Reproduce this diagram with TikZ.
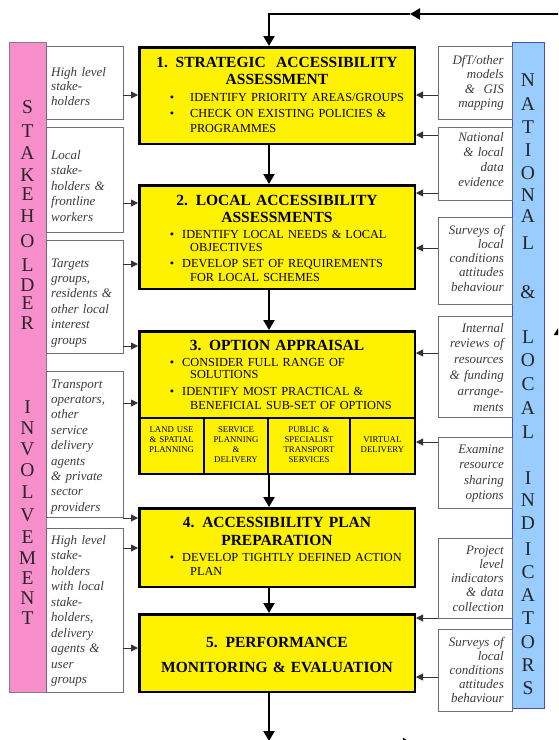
\documentclass[tikz,border=0pt]{standalone}
\usepackage{fontspec}
\setmainfont{Liberation Serif}
\usetikzlibrary{arrows.meta}
\definecolor{pinkbar}{RGB}{248,143,204}
\definecolor{bluebar}{RGB}{153,204,255}
\definecolor{sidetext}{RGB}{60,60,60}
\definecolor{sideline}{RGB}{110,110,110}
\tikzset{
  mainbox/.style={draw=black, line width=2.5pt, fill=yellow, inner sep=0pt, minimum width=275.5pt},
  subbox/.style={draw=black, line width=2.2pt, inner sep=0pt},
  sidebox/.style={draw=sideline, line width=0.8pt, fill=white, inner sep=0pt},
  lbar/.style={draw=gray, line width=0.7pt, fill=pinkbar, inner sep=0pt},
  rbar/.style={draw=gray!60!blue, line width=0.7pt, fill=bluebar, inner sep=0pt},
  ltext/.style={anchor=base west, inner sep=0pt, text width=70pt, align=left, text=sidetext},
  rtext/.style={anchor=base east, inner sep=0pt, text width=70pt, align=right, text=sidetext},
  titletext/.style={anchor=base, inner sep=0pt, text width=270pt, align=center},
  btext/.style={anchor=base west, inner sep=0pt, text width=228pt, align=left},
  bulletdot/.style={anchor=base, inner sep=0pt, font=\fontsize{12.3}{14}\selectfont},
  subtext/.style={anchor=base, inner sep=0pt, align=center, text width=62pt, font=\fontsize{8.8}{10}\selectfont},
  letter/.style={inner sep=0pt, text=black!85, font=\fontsize{19.5}{19.5}\selectfont},
  flow/.style={line width=2.2pt, line join=miter, -{Triangle[length=10pt,width=11pt]}},
  feed/.style={line width=0.9pt, draw=black!80, -{Triangle[length=7pt,width=7pt]}},
}
\newcommand{\sidefont}[1]{\fontsize{13}{#1}\selectfont\itshape}
\newcommand{\titlefont}[1]{\fontsize{15.5}{#1}\selectfont\bfseries}
\newcommand{\bfont}[1]{\fontsize{12.3}{#1}\selectfont}
\begin{document}
\begin{tikzpicture}[x=1pt,y=-1pt]
\useasboundingbox (0,0) rectangle (558,740);
\clip (0,0) rectangle (558,740);

% bars
\node[lbar, minimum width=37pt, minimum height=650pt] (lb) at (27.5,367) {};
\node[rbar, minimum width=32pt, minimum height=666pt] (rb) at (528,375) {};

\foreach \c/\y [count=\i] in {S/107,T/131,A/153,K/175,E/194,H/216,O/241,L/265,D/285,E/303,R/323,I/407,N/428,V/449,O/470,L/492,V/515,E/537,M/558,E/578,N/598,T/618}
  \node[letter, name=ls\i] at (27.5,\y) {\c};
\foreach \c/\y [count=\i] in {N/80,A/104,T/127,I/150,O/173,N/195,A/216,L/243,\&/292,L/337,O/360,C/384,A/408,L/432,I/478,N/500,D/523,I/549,C/572,A/595,T/618,O/642,R/665,S/688}
  \node[letter, name=rs\i] at (528,\y) {\c};

% left side boxes
\node[sidebox, minimum width=77pt, minimum height=73pt]  (L1) at (84.5,82.5) {};
\node[sidebox, minimum width=77pt, minimum height=105pt] (L2) at (84.5,179.5) {};
\node[sidebox, minimum width=77pt, minimum height=113pt] (L3) at (84.5,296.5) {};
\node[sidebox, minimum width=77pt, minimum height=146pt] (L4) at (84.5,444) {};
\node[sidebox, minimum width=77pt, minimum height=164pt] (L5) at (84.5,610) {};

\node[ltext, font=\sidefont{14.5}] (L1t) at (51,76) {High level\\stake-\\holders};
\node[ltext, font=\sidefont{15.5}] (L2t) at (51,159) {Local\\stake-\\holders \&\\frontline\\workers};
\node[ltext, font=\sidefont{15.4}] (L3t) at (51,267) {Targets\\groups,\\residents \&\\other local\\interest\\groups};
\node[ltext, font=\sidefont{15.4}] (L4t) at (51,388) {Transport\\operators,\\other\\service\\delivery\\agents\\\& private\\sector\\providers};
\node[ltext, font=\sidefont{15.5}] (L5t) at (51,544) {High level\\stake-\\holders\\with local\\stake-\\holders,\\delivery\\agents \&\\user\\groups};

% right side boxes
\node[sidebox, minimum width=74pt, minimum height=73pt]  (R1) at (475,82.5) {};
\node[sidebox, minimum width=74pt, minimum height=73pt]  (R2) at (475,163.5) {};
\node[sidebox, minimum width=74pt, minimum height=87pt]  (R3) at (475,260.5) {};
\node[sidebox, minimum width=74pt, minimum height=101pt] (R4) at (475,366.5) {};
\node[sidebox, minimum width=74pt, minimum height=71pt]  (R5) at (475,472.5) {};
\node[sidebox, minimum width=74pt, minimum height=80pt]  (R6) at (475,578) {};
\node[sidebox, minimum width=74pt, minimum height=82pt]  (R7) at (475,670) {};

\node[rtext, font=\sidefont{14.5}] (R1t) at (504,64) {DfT/other\\models\\\&\ \ GIS\\mapping};
\node[rtext, font=\sidefont{15.3}] (R2t) at (504,141) {National\\\& local\\data\\evidence};
\node[rtext, font=\sidefont{14.3}] (R3t) at (504,234) {Surveys of\\local\\conditions\\attitudes\\behaviour};
\node[rtext, font=\sidefont{15.8}] (R4t) at (504,332) {Internal\\reviews of\\resources\\\& funding\\arrange-\\ments};
\node[rtext, font=\sidefont{15.6}] (R5t) at (504,453) {Examine\\resource\\sharing\\options};
\node[rtext, font=\sidefont{14.3}] (R6t) at (504,554) {Project\\level\\indicators\\\& data\\collection};
\node[rtext, font=\sidefont{14}]   (R7t) at (504,646) {Surveys of\\local\\conditions\\attitudes\\behaviour};

% main boxes
\node[mainbox, minimum height=96.5pt]  (b1) at (277,95.5) {};
\node[mainbox, minimum height=103.5pt] (b2) at (277,237) {};
\node[mainbox, minimum height=142.5pt] (b3) at (277,402.5) {};
\node[mainbox, minimum height=78.5pt]  (b4) at (277,547.5) {};
\node[mainbox, minimum height=77.5pt]  (b5) at (277,653) {};

% sub boxes of box 3
\node[subbox, minimum width=64.75pt, minimum height=55.75pt] (sb1) at (171.6,445.9) {};
\node[subbox, minimum width=64pt,    minimum height=55.75pt] (sb2) at (236,445.9) {};
\node[subbox, minimum width=82pt,    minimum height=55.75pt] (sb3) at (309,445.9) {};
\node[subbox, minimum width=64.75pt, minimum height=55.75pt] (sb4) at (382.4,445.9) {};

\node[subtext] (sb1t) at (171.6,432) {LAND USE\\\& SPATIAL\\PLANNING};
\node[subtext] (sb2t) at (236,432) {SERVICE\\PLANNING\\\&\\DELIVERY};
\node[subtext] (sb3t) at (309,432) {PUBLIC \&\\SPECIALIST\\TRANSPORT\\SERVICES};
\node[subtext] (sb4t) at (382.4,442) {VIRTUAL\\DELIVERY};

% box texts
\node[titletext, font=\titlefont{17}] (b1t) at (277,67) {1. STRATEGIC\ \ ACCESSIBILITY\\ASSESSMENT};
\node[bulletdot] (b1d1) at (172,101) {\textbullet};
\node[btext, font=\bfont{15}] (b1x1) at (190,101) {IDENTIFY PRIORITY AREAS/GROUPS};
\node[bulletdot] (b1d2) at (172,117) {\textbullet};
\node[btext, font=\bfont{15}] (b1x2) at (190,117) {CHECK ON EXISTING POLICIES \&\\PROGRAMMES};

\node[titletext, font=\titlefont{17}] (b2t) at (277,205) {2. LOCAL ACCESSIBILITY\\ASSESSMENTS};
\node[bulletdot] (b2d1) at (172,238) {\textbullet};
\node[btext, font=\bfont{13.5}] (b2x1) at (182,238) {IDENTIFY LOCAL NEEDS \& LOCAL\\\hspace*{8pt}OBJECTIVES};
\node[bulletdot] (b2d2) at (172,267) {\textbullet};
\node[btext, font=\bfont{14}] (b2x2) at (182,267) {DEVELOP SET OF REQUIREMENTS\\\hspace*{8pt}FOR LOCAL SCHEMES};

\node[titletext, font=\titlefont{17}] (b3t) at (277,350) {3. OPTION APPRAISAL};
\node[bulletdot] (b3d1) at (172,366) {\textbullet};
\node[btext, font=\bfont{12.5}] (b3x1) at (182,366) {CONSIDER FULL RANGE OF\\\hspace*{8pt}SOLUTIONS};
\node[bulletdot] (b3d2) at (172,395) {\textbullet};
\node[btext, font=\bfont{14}] (b3x2) at (182,395) {IDENTIFY MOST PRACTICAL \&\\\hspace*{8pt}BENEFICIAL SUB-SET OF OPTIONS};

\node[titletext, font=\titlefont{18}] (b4t) at (277,527) {4. ACCESSIBILITY PLAN\\PREPARATION};
\node[bulletdot] (b4d1) at (172,561) {\textbullet};
\node[btext, font=\bfont{14}] (b4x1) at (182,561) {DEVELOP TIGHTLY DEFINED ACTION\\\hspace*{8pt}PLAN};

\node[titletext, font=\titlefont{25}] (b5t) at (277,647) {5. PERFORMANCE\\MONITORING \& EVALUATION};

% main flow
\coordinate (ax) at (269,0);
\draw[flow] (b1.south -| ax) -- (b2.north -| ax);
\draw[flow] (b2.south -| ax) -- (b3.north -| ax);
\draw[flow] (b3.south -| ax) -- (b4.north -| ax);
\draw[flow] (b4.south -| ax) -- (b5.north -| ax);
\coordinate (bend) at (269,741);
\draw[flow] (b5.south -| ax) -- (bend);

% loop back (partly outside the picture)
\coordinate (tr) at (562,14);
\coordinate (tm) at (410,14);
\coordinate (tc) at (269,14);
\draw[line width=2.2pt, -{Triangle[length=10pt,width=11pt]}] (tr) -- (tm);
\draw[flow] (tm) -- (tc) -- (b1.north -| ax);
\coordinate (rl1) at (560,420);
\coordinate (rl2) at (560,325);
\draw[line width=2.2pt, -{Triangle[length=10pt,width=12pt]}] (rl1) -- (rl2);
\coordinate (bl1) at (269,744);
\coordinate (bl2) at (413,744);
\draw[line width=2.2pt, -{Triangle[length=10pt,width=12pt]}] (bl1) -- (bl2);

% feeds from left
\draw[feed] (L1.east |- 0,95)  -- (b1.west |- 0,95);
\draw[feed] (L2.east |- 0,203) -- (b2.west |- 0,203);
\draw[feed] (L3.east |- 0,264) -- (b2.west |- 0,264);
\draw[feed] (L3.east |- 0,346) -- (b3.west |- 0,346);
\draw[feed] (L4.east |- 0,403) -- (b3.west |- 0,403);
\draw[feed] (L4.east |- 0,518) -- (b4.west |- 0,518);
\draw[feed] (L5.east |- 0,548) -- (b4.west |- 0,548);
\draw[feed] (L5.east |- 0,648) -- (b5.west |- 0,648);

% feeds from right
\draw[feed] (R1.west |- 0,95)  -- (b1.east |- 0,95);
\draw[feed] (R2.west |- 0,135) -- (b1.east |- 0,135);
\draw[feed] (R2.west |- 0,193) -- (b2.east |- 0,193);
\draw[feed] (R3.west |- 0,248) -- (b2.east |- 0,248);
\draw[feed] (R4.west |- 0,353) -- (b3.east |- 0,353);
\draw[feed] (R5.west |- 0,442) -- (b3.east |- 0,442);
\draw[feed] (R6.west |- 0,618) -- (b5.east |- 0,618);
\draw[feed] (R7.west |- 0,677) -- (b5.east |- 0,677);
\end{tikzpicture}
\end{document}
